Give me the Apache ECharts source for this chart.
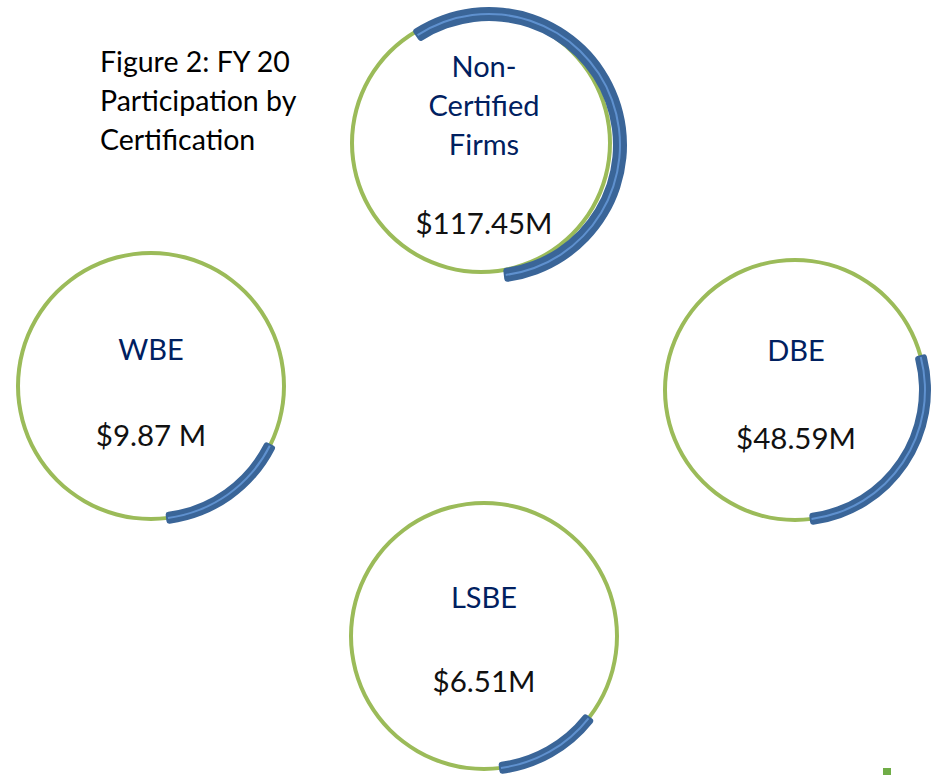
<!DOCTYPE html>
<html>
<head>
<meta charset="utf-8">
<title>FY 20 Participation by Certification</title>
<script src="https://cdn.jsdelivr.net/npm/echarts@6/dist/echarts.min.js"></script>
<style>
  html, body { margin: 0; padding: 0; background: #fff; }
  #main { width: 941px; height: 775px; }
</style>
</head>
<body>
<div id="main"></div>
<script>
// data
var categories = ['Non-\nCertified\nFirms', 'WBE', 'DBE', 'LSBE'];
var valueLabels = ['$117.45M', '$9.87 M', '$48.59M', '$6.51M'];
var amounts = [117.45, 9.87, 48.59, 6.51];
// share of each ring covered by the blue arc (as drawn)
var arcShare = [0.576, 0.16, 0.275, 0.128];
var titleText = 'Figure 2: FY 20\nParticipation by\nCertification';

// layout
var ringCenters = [[481, 143], [151, 386], [795, 390], [484, 636]];
var ringRadii = [129, 133, 130, 133];
var arcCenters = [[489, 145], [151, 386], [795, 390], [484, 636]];
var arcBands = [[124, 138], [127, 139], [124, 136], [127, 139]];
var labelX = [484, 151, 796, 484];
var labelY = [[104, 222], [348, 434], [349, 437], [596, 680]];
var arcEnd = 173.5; // degrees clockwise from 12 o'clock where the arcs stop

var green = '#9BBB59', blue = '#3A6598', blueLight = '#5F91CF', navy = '#002060';
var font = 'Lato, "Open Sans", sans-serif';

var chart = echarts.init(document.getElementById('main'), null, { renderer: 'svg' });

var series = [];
var graphic = [];
categories.forEach(function (name, i) {
  var r = ringRadii[i], band = arcBands[i];
  var mid = (band[0] + band[1]) / 2;
  var start = 90 - (arcEnd - arcShare[i] * 360);
  var common = {
    type: 'pie', silent: true, clockwise: true,
    label: { show: false }, labelLine: { show: false },
    emphasis: { disabled: true }, animation: false
  };
  // thin green ring
  series.push(Object.assign({}, common, {
    name: name + ' ring', center: ringCenters[i], radius: [r - 2, r + 2],
    data: [{ value: 1, itemStyle: { color: green } }]
  }));
  // thick blue arc
  series.push(Object.assign({}, common, {
    name: name, center: arcCenters[i], radius: band, startAngle: start,
    data: [
      { value: arcShare[i], name: name, itemStyle: { color: blue, borderRadius: 3 } },
      { value: 1 - arcShare[i], itemStyle: { color: 'transparent' } }
    ]
  }));
  // light stripe inside the arc
  series.push(Object.assign({}, common, {
    name: name + ' stripe', center: arcCenters[i], radius: [mid - 1, mid + 1], startAngle: start - 0.8,
    data: [
      { value: arcShare[i] - 0.0045, itemStyle: { color: blueLight } },
      { value: 1 - arcShare[i] + 0.0045, itemStyle: { color: 'transparent' } }
    ]
  }));

  graphic.push({
    type: 'text', x: labelX[i], y: labelY[i][0],
    style: {
      text: name, fill: navy, font: '29px ' + font,
      align: 'center', verticalAlign: 'middle', lineHeight: 39
    }
  });
  graphic.push({
    type: 'text', x: labelX[i], y: labelY[i][1],
    style: {
      text: valueLabels[i], fill: '#111', font: '29.5px ' + font,
      align: 'center', verticalAlign: 'middle'
    }
  });
});

// title
graphic.push({
  type: 'text', left: 100, top: 41,
  style: { text: titleText, fill: '#000', font: '28.5px ' + font, lineHeight: 39 }
});
// small green mark at the bottom-right edge
graphic.push({
  type: 'rect', shape: { x: 883, y: 768, width: 8, height: 7 },
  style: { fill: '#70AD47' }, silent: true
});

chart.setOption({
  backgroundColor: '#fff',
  animation: false,
  series: series,
  graphic: graphic
});
</script>
</body>
</html>
